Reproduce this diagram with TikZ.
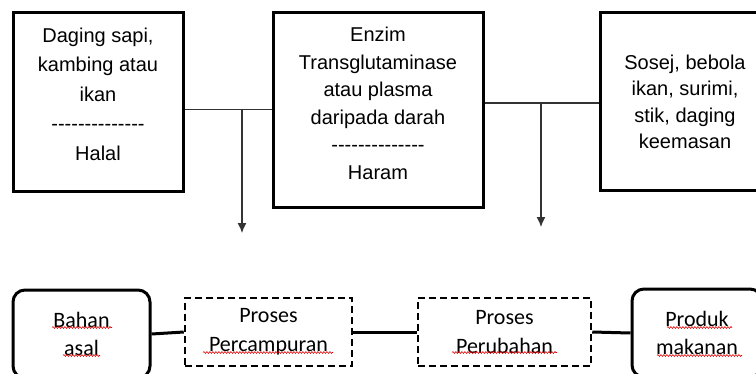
\documentclass[tikz,border=0pt]{standalone}
\usepackage{fontspec}
\setmainfont{Liberation Sans}
\newfontfamily\calibri{Carlito}
\usetikzlibrary{arrows.meta,decorations.pathmorphing}
\newcommand\hy{-\kern0pt}
\newcommand\dashrow{\hy\hy\hy\hy\hy\hy\hy\hy\hy\hy\hy\hy\hy\hy}
\begin{document}
\begin{tikzpicture}[x=1pt,y=-1pt,
  topbox/.style={draw, line width=3pt, inner sep=0pt},
  toptext/.style={inner sep=0pt, align=center, font=\fontsize{20}{27.5}\selectfont},
  roundbox/.style={draw, line width=3pt, rounded corners=12pt, inner sep=0pt,
    align=center, font=\calibri\fontsize{22}{28}\selectfont},
  dashbox/.style={draw, line width=2.5pt, dash pattern=on 7pt off 4pt,
    inner sep=0pt, align=center, font=\calibri\fontsize{22}{29}\selectfont},
  thinconn/.style={draw=black!80, line width=1.3pt},
  thickconn/.style={draw, line width=3pt},
  tip/.style={-{Latex[length=10pt,width=9pt]}},
  wave/.style={draw=red!85!black, line width=0.6pt,
    decorate, decoration={snake, amplitude=0.9pt, segment length=3pt}}
]
\useasboundingbox (0,0) rectangle (756,373);
\clip (0,0) rectangle (756,373);

% top boxes
\node[topbox, minimum width=170pt, minimum height=179pt] (b1) at (98,101.5) {};
\node[toptext, font=\fontsize{20}{29.5}\selectfont] (b1t) at (98,94)
  {Daging sapi,\\kambing atau\\ikan\\\dashrow\\Halal};
\node[topbox, minimum width=210pt, minimum height=195pt] (b2) at (378,109.5) {};
\node[toptext] (b2t) at (378,103.5)
  {Enzim\\Transglutaminase\\atau plasma\\daripada darah\\\dashrow\\Haram};
\node[topbox, minimum width=170pt, minimum height=178pt] (b3) at (685,101) {};
\node[toptext, font=\fontsize{20}{26.5}\selectfont] (b3t) at (685,102)
  {Sosej, bebola\\ikan, surimi,\\stik, daging\\keemasan};

% top connectors
\draw[thinconn] (b1.east |- b2.west) -- (b2.west);
\coordinate (j1) at (242,109.5);
\coordinate (a1) at (242,233);
\draw[thinconn, tip] (j1) -- (a1);
\draw[thinconn] (b2.east |- 0,103) -- (b3.west |- 0,103);
\coordinate (j2) at (541,103);
\coordinate (a2) at (541,227);
\draw[thinconn, tip] (j2) -- (a2);

% bottom boxes
\node[roundbox, minimum width=137pt, minimum height=88pt] (ba) at (81.5,334)
  {Bahan\\asal};
\node[dashbox, minimum width=167pt, minimum height=68pt] (pc) at (268.5,332)
  {Proses\\Percampuran};
\node[dashbox, minimum width=173pt, minimum height=68pt] (pu) at (504.5,332)
  {Proses\\Perubahan};
\node[roundbox, minimum width=130pt, minimum height=88pt] (pm) at (697,333)
  {Produk\\makanan};

% spell-check underlines
\draw[wave] (52,327.5) -- (112,327.5);
\draw[wave] (63,355.5) -- (100,355.5);
\draw[wave] (203,352.5) -- (333,352.5);
\draw[wave] (452,352.5) -- (557,352.5);
\draw[wave] (667,327.5) -- (732,327.5);
\draw[wave] (657,355.5) -- (742,355.5);

% bottom connectors
\draw[thickconn] (ba.east) -- (pc.west);
\draw[thickconn] (pc.east) -- (pu.west);
\draw[thickconn] (pu.east) -- (pm.west);
\end{tikzpicture}
\end{document}
